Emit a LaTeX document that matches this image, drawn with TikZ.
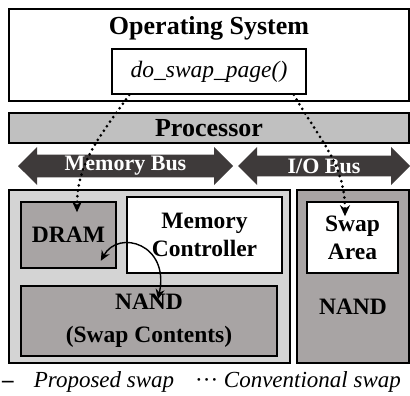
\documentclass[tikz,border=0pt]{standalone}
\usepackage{fontspec}
\setmainfont{Liberation Serif}
\usepackage{tikz}
\usetikzlibrary{shapes.arrows,positioning,arrows.meta}

\definecolor{busgray}{RGB}{62,58,58}
\definecolor{procgray}{RGB}{192,192,192}
\definecolor{boardgray}{RGB}{212,212,212}
\definecolor{nandgray}{RGB}{168,164,164}

\begin{document}
\begin{tikzpicture}[
  x=1pt, y=-1pt,
  box/.style={rectangle, draw=black, line width=1.6pt, inner sep=0pt, align=center, font=\fontsize{23.5}{28}\selectfont\bfseries},
  bus/.style={double arrow, fill=busgray, text=white, inner sep=0pt, font=\fontsize{22}{24}\selectfont\bfseries, double arrow head extend=6.5pt, double arrow tip angle=90, minimum width=38pt},
  swaparrow/.style={-{Stealth[length=11pt,width=10pt]}, line width=3pt, line cap=round, dash pattern=on 0pt off 5.5pt},
  movearrow/.style={{Stealth[length=10pt,width=9pt]}-{Stealth[length=10pt,width=9pt]}, line width=1.4pt}
]
  \useasboundingbox (0,0) rectangle (410,396);
  % host side
  \node[box, minimum width=400pt, minimum height=92pt] (os) at (209,55) {};
  \node[font=\fontsize{26}{28}\selectfont\bfseries, inner sep=0pt, below=8pt of os.north] (ostitle) {Operating System};
  \node[box, font=\fontsize{23.5}{28}\selectfont\itshape, minimum width=194pt, minimum height=45pt] (dsp) at (209,71.5) {do\_swap\_page()};
  \node[box, fill=procgray, font=\fontsize{26}{28}\selectfont\bfseries, minimum width=400pt, minimum height=30pt] (proc) at (209,128) {Processor};
  \node[bus, minimum height=215pt] (membus) at (125.5,166) {Memory Bus};
  \node[bus, minimum height=172pt] (iobus) at (324,166) {I/O Bus};
  % memory module
  \node[box, fill=boardgray, minimum width=281pt, minimum height=173pt] (board) at (149.5,276.5) {};
  \node[box, fill=nandgray, minimum width=95pt, minimum height=66pt] (dram) at (68.5,235) {DRAM};
  \node[box, fill=white, minimum width=155pt, minimum height=76pt] (mc) at (204.5,235) {Memory\\Controller};
  \node[box, fill=nandgray, font=\fontsize{23.5}{33}\selectfont\bfseries, minimum width=256pt, minimum height=70pt] (nand) at (149,321) {NAND\\(Swap Contents)};
  % storage device
  \node[box, fill=nandgray, minimum width=112pt, minimum height=173pt] (ssd) at (353,276.5) {};
  \node[box, fill=white, minimum width=91pt, minimum height=71pt] (swap) at (352.5,237.5) {Swap\\Area};
  \node[font=\fontsize{23.5}{28}\selectfont\bfseries, inner sep=0pt] (ssdnand) at (353,307) {NAND};
  % swap paths
  \draw[swaparrow] ([xshift=18pt]dsp.south west) to[out=-125, in=90] ([xshift=8.5pt,yshift=-11pt]dram.north);
  \draw[swaparrow] ([xshift=-13pt]dsp.south east) to[out=-60, in=90] ([xshift=-7.5pt,yshift=-15pt]swap.north);
  \draw[movearrow] ([xshift=-16pt,yshift=8pt]dram.south east) .. controls +(18,-32) and +(12,-55) .. ([xshift=9pt,yshift=-14pt]nand.north);
  % legend
  \node[font=\fontsize{23}{25}\selectfont, inner sep=0pt, anchor=base west] (legend) at (2,387) {\textbf{–}\hspace{20pt}\textit{Proposed swap}\hspace{21pt}···\ \textit{Conventional swap}};
\end{tikzpicture}
\end{document}
